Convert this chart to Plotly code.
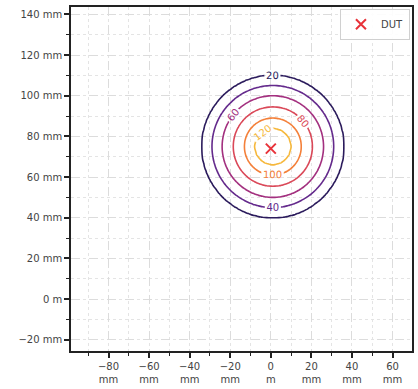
import numpy as np
import plotly.graph_objects as go

# --- data ---
dut_x_mm = [0.0]
dut_y_mm = [74.0]
field_center_mm = (1.0, 75.0)
contour_radius_mm = [0, 9, 14, 19.5, 25, 30, 35, 45, 200]
contour_value = [135, 120, 100, 80, 60, 40, 20, 0, 0]
contour_levels = [20, 40, 60, 80, 100, 120]

x_tick_vals = [-80, -60, -40, -20, 0, 20, 40, 60]
x_tick_text = ["\u221280<br>mm", "\u221260<br>mm", "\u221240<br>mm", "\u221220<br>mm",
               "0<br>m", "20<br>mm", "40<br>mm", "60<br>mm"]
y_tick_vals = [-20, 0, 20, 40, 60, 80, 100, 120, 140]
y_tick_text = ["\u221220 mm", "0 m", "20 mm", "40 mm", "60 mm", "80 mm",
               "100 mm", "120 mm", "140 mm"]

# build field grid from the read radial profile
gx = np.arange(-60, 61, 1.0)
gy = np.arange(15, 136, 1.0)
XX, YY = np.meshgrid(gx, gy)
R = np.hypot(XX - field_center_mm[0], YY - field_center_mm[1])
Z = np.interp(R, contour_radius_mm, contour_value)

colorscale = [[0.0, "#2b1b5c"], [0.2, "#642a8c"], [0.4, "#a3307f"],
              [0.6, "#da4858"], [0.8, "#f4803a"], [1.0, "#f6b83c"]]

fig = go.Figure()
fig.add_trace(go.Contour(
    x=gx, y=gy, z=Z,
    zmin=min(contour_levels), zmax=max(contour_levels),
    autocontour=False,
    contours=dict(start=contour_levels[0], end=contour_levels[-1], size=20,
                  coloring="lines", showlabels=True,
                  labelfont=dict(family="DejaVu Sans", size=10)),
    colorscale=colorscale, showscale=False,
    line=dict(width=1.6), hoverinfo="skip", showlegend=False,
))
fig.add_trace(go.Scatter(
    x=dut_x_mm, y=dut_y_mm, mode="markers", name="DUT",
    marker=dict(symbol="x-thin", size=10, color="#e8333a",
                line=dict(width=2, color="#e8333a")),
))

axis_common = dict(
    showline=True, linecolor="#222", linewidth=1.5, mirror=True,
    ticks="outside", ticklen=5, tickwidth=1.5, tickcolor="#222",
    showgrid=True, gridcolor="#dcdcdc", gridwidth=1, griddash="dash",
    zeroline=False,
    tickfont=dict(family="DejaVu Sans", size=10, color="#444"),
    minor=dict(tick0=0, dtick=10, ticks="outside", ticklen=3, tickwidth=1.2,
               tickcolor="#222", showgrid=True, gridcolor="#e4e4e4",
               griddash="dot", gridwidth=1),
)

fig.update_xaxes(range=[-98.5, 69.6], tickmode="array", tickvals=x_tick_vals,
                 ticktext=x_tick_text, **axis_common)
fig.update_yaxes(range=[-25.5, 143.6], tickmode="array", tickvals=y_tick_vals,
                 ticktext=y_tick_text, **axis_common)

fig.update_layout(
    width=418, height=389,
    margin=dict(l=71, r=4, t=7, b=37),
    paper_bgcolor="white", plot_bgcolor="white",
    showlegend=True,
    legend=dict(x=0.994, y=0.995, xanchor="right", yanchor="top",
                bgcolor="rgba(255,255,255,0.9)", bordercolor="#d0d0d0",
                borderwidth=1, font=dict(family="DejaVu Sans", size=10, color="#444")),
)

fig.write_html("out.html", config={"displayModeBar": False},
               post_script="document.body.style.margin='0';document.body.style.overflow='hidden';")
